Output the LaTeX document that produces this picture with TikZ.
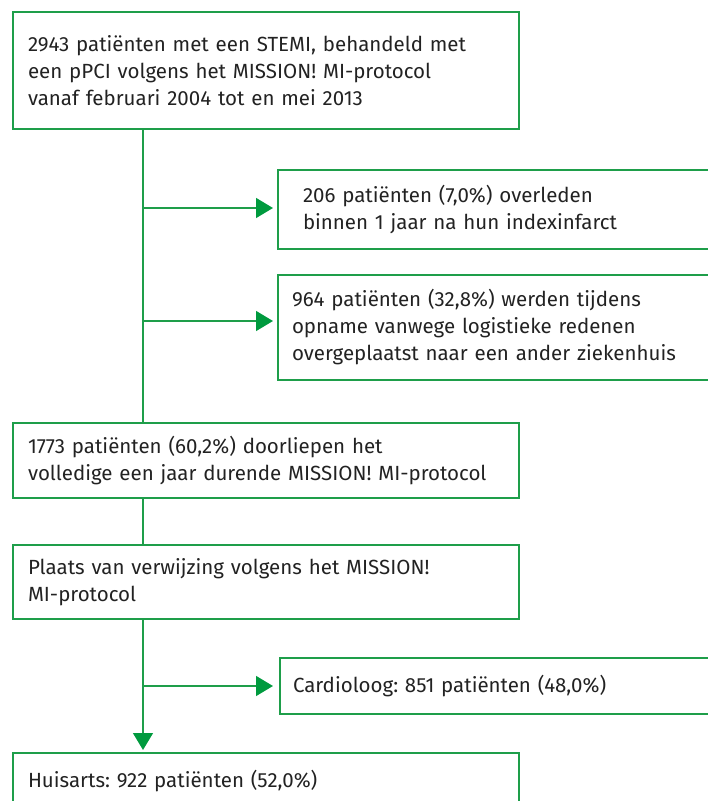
\documentclass[tikz,border=0pt]{standalone}
\usepackage{fontspec}
\setmainfont{Fira Sans}
\frenchspacing
\usetikzlibrary{arrows.meta,calc}
\definecolor{flowgreen}{HTML}{1E9E4A}
\definecolor{arrowgreen}{HTML}{009A3E}
\definecolor{txt}{HTML}{222222}
\begin{document}
\frenchspacing
\begin{tikzpicture}[x=1pt,y=-1pt,
  box/.style={draw=flowgreen, line width=1.4pt, anchor=north west, align=left,
    text=txt, font=\fontsize{20.5}{27}\selectfont, inner ysep=0pt, outer sep=0pt},
  conn/.style={draw=flowgreen, line width=1.4pt},
  arr/.style={conn, -{Triangle[length=17pt,width=20pt,fill=arrowgreen,color=arrowgreen]}}]
\useasboundingbox (0,0) rectangle (708,801);
\clip (0,0) rectangle (708,801);
\coordinate (trunk) at (143,0);
\node[box, minimum width=506pt, minimum height=117pt, text width=476pt, inner xsep=15pt] (b1) at (13,12)
  {2943 patiënten met een STEMI, behandeld met\\een pPCI volgens het MISSION! MI-protocol\\vanaf februari 2004 tot en mei 2013};
\node[box, minimum width=500pt, minimum height=79pt, text width=450pt, inner xsep=25pt] (b2) at (278,170)
  {206 patiënten (7,0\%) overleden\\binnen 1 jaar na hun indexinfarct};
\node[box, minimum width=500pt, minimum height=105pt, text width=472pt, inner xsep=14pt] (b3) at (278,275)
  {964 patiënten (32,8\%) werden tijdens\\opname vanwege logistieke redenen\\overgeplaatst naar een ander ziekenhuis};
\node[box, minimum width=506pt, minimum height=75pt, text width=476pt, inner xsep=15pt] (b4) at (13,423)
  {1773 patiënten (60,2\%) doorliepen het\\volledige een jaar durende MISSION! MI-protocol};
\node[box, minimum width=506pt, minimum height=74pt, text width=476pt, inner xsep=15pt] (b5) at (13,545)
  {Plaats van verwijzing volgens het MISSION!\\MI-protocol};
\node[box, minimum width=500pt, minimum height=56pt, text width=474pt, inner xsep=13pt] (b6) at (280,658)
  {Cardioloog: 851 patiënten (48,0\%)};
\node[box, minimum width=506pt, minimum height=56pt, text width=476pt, inner xsep=15pt] (b7) at (13,753)
  {Huisarts: 922 patiënten (52,0\%)};
\draw[conn] (b1.south -| trunk) -- (b4.north -| trunk);
\draw[arr, shorten >=5pt] ($(b2.west -| trunk)+(0,-1.5)$) -- ($(b2.west)+(0,-1.5)$);
\draw[arr, shorten >=5pt] ($(b3.west -| trunk)+(0,-6.5)$) -- ($(b3.west)+(0,-6.5)$);
\draw[conn] (b4.south -| trunk) -- (b5.north -| trunk);
\draw[arr, shorten >=3pt] (b5.south -| trunk) -- (b7.north -| trunk);
\draw[arr, shorten >=7pt] (b6.west -| trunk) -- (b6.west);
\end{tikzpicture}
\end{document}
